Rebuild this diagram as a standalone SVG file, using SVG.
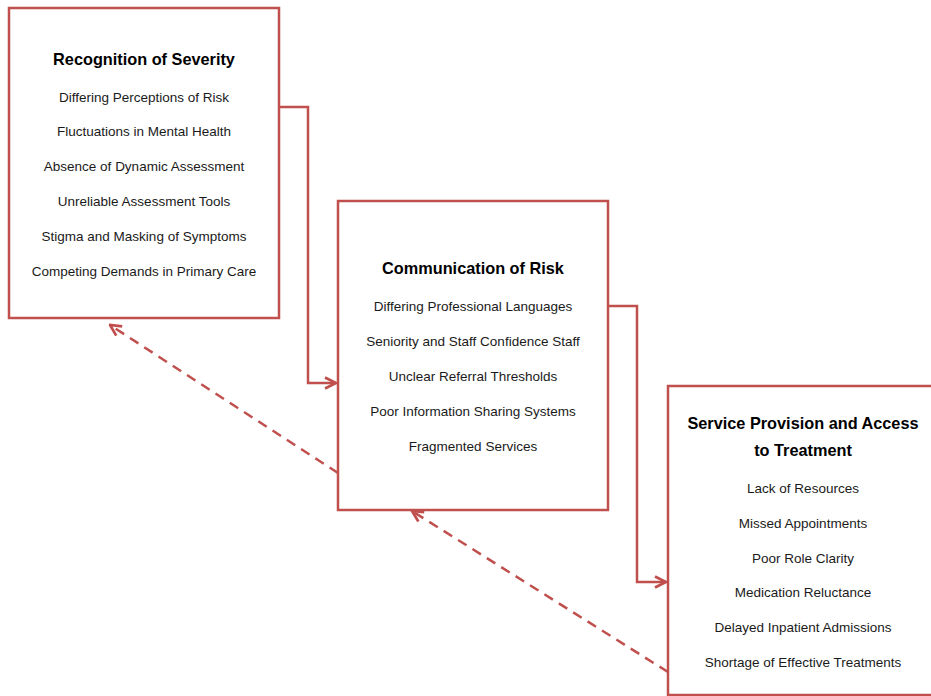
<svg xmlns="http://www.w3.org/2000/svg" width="931" height="696" viewBox="0 0 931 696">
<style>
.box{fill:#fff;stroke:#c0504d;stroke-width:2.5}
.t{font-family:"Liberation Sans",Arial,sans-serif;font-size:16.3px;font-weight:bold;fill:#000;text-anchor:middle}
.i{font-family:"Liberation Sans",Arial,sans-serif;font-size:13.5px;fill:#1a1a1a;text-anchor:middle}
.c{fill:none;stroke:#c0504d;stroke-width:2.5}
.d{fill:none;stroke:#c0504d;stroke-width:2.5;stroke-dasharray:10 7}
</style>
<defs>
<marker id="ah" viewBox="0 0 10 10" refX="9" refY="5" markerWidth="5.5" markerHeight="5.5" orient="auto" markerUnits="strokeWidth">
<path d="M1,1 L9,5 L1,9" fill="none" stroke="#c0504d" stroke-width="2"/>
</marker>
</defs>
<rect width="931" height="696" fill="#fff"/>
<g id="connectors">
<path class="c" d="M279,107 H308 V383 H336" marker-end="url(#ah)"/>
<path class="c" d="M608,306 H637 V582 H666" marker-end="url(#ah)"/>
<path class="d" d="M338,473 L110,325" marker-end="url(#ah)"/>
<path class="d" d="M668,672 L412,511" marker-end="url(#ah)"/>
</g>
<g id="recognition">
<rect class="box" x="9" y="8" width="270" height="310"/>
<text class="t" x="144" y="65">Recognition of Severity</text>
<text class="i" x="144" y="102">Differing Perceptions of Risk</text>
<text class="i" x="144" y="136">Fluctuations in Mental Health</text>
<text class="i" x="144" y="171">Absence of Dynamic Assessment</text>
<text class="i" x="144" y="206">Unreliable Assessment Tools</text>
<text class="i" x="144" y="241">Stigma and Masking of Symptoms</text>
<text class="i" x="144" y="276">Competing Demands in Primary Care</text>
</g>
<g id="communication">
<rect class="box" x="338" y="201" width="270" height="309"/>
<text class="t" x="473" y="274">Communication of Risk</text>
<text class="i" x="473" y="311">Differing Professional Languages</text>
<text class="i" x="473" y="346">Seniority and Staff Confidence Staff</text>
<text class="i" x="473" y="381">Unclear Referral Thresholds</text>
<text class="i" x="473" y="416">Poor Information Sharing Systems</text>
<text class="i" x="473" y="451">Fragmented Services</text>
</g>
<g id="service">
<rect class="box" x="668" y="386" width="275" height="309"/>
<text class="t" x="803" y="429">Service Provision and Access</text>
<text class="t" x="803" y="456">to Treatment</text>
<text class="i" x="803" y="493">Lack of Resources</text>
<text class="i" x="803" y="528">Missed Appointments</text>
<text class="i" x="803" y="563">Poor Role Clarity</text>
<text class="i" x="803" y="597">Medication Reluctance</text>
<text class="i" x="803" y="632">Delayed Inpatient Admissions</text>
<text class="i" x="803" y="667">Shortage of Effective Treatments</text>
</g>
</svg>
